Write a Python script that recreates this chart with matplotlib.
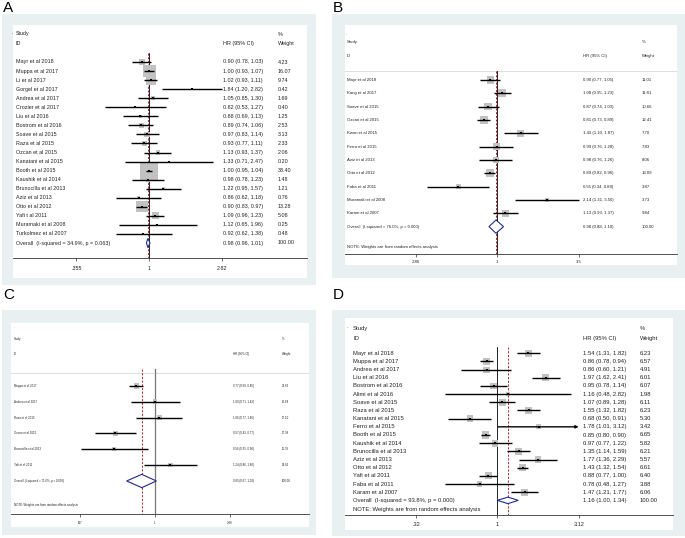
import numpy as np
import matplotlib
matplotlib.use("Agg")
import matplotlib.pyplot as plt
from matplotlib.patches import Rectangle, Polygon
from matplotlib.transforms import blended_transform_factory
from matplotlib.ticker import NullLocator

plt.rcParams['font.family'] = ['Liberation Sans', 'DejaVu Sans']

W, H = 685, 538
BG = '#e8f0f2'
BOX = '#c2c2c2'
RED = '#b0282c'
NAVY = '#1f2b8f'

# ---- panel A ----
a_study = ['Mayr et al 2018', 'Muppa et al 2017', 'Li et al 2017', 'Gorgel et al 2017',
           'Andrea et al 2017', 'Crozier et al 2017', 'Liu et al 2016', 'Bostrom et al 2016',
           'Soave et al 2015', 'Raza et al 2015', 'Ozcan et al 2015', 'Kanatani et al 2015',
           'Booth et al 2015', 'Kaushik et al 2014', 'Brunocilla et al 2013', 'Aziz et al 2013',
           'Otto et al 2012', 'Yafi t al 2011', 'Muramaki et al 2008', 'Turkolmez et al 2007']
a_hr = [0.90, 1.00, 1.02, 1.84, 1.05, 0.82, 0.88, 0.89, 0.97, 0.93, 1.13, 1.33, 1.00, 0.98,
        1.22, 0.86, 0.90, 1.09, 1.12, 0.92]
a_lo = [0.78, 0.93, 0.93, 1.20, 0.85, 0.53, 0.69, 0.74, 0.83, 0.77, 0.93, 0.71, 0.95, 0.78,
        0.95, 0.62, 0.83, 0.96, 0.65, 0.62]
a_hi = [1.03, 1.07, 1.11, 2.82, 1.30, 1.27, 1.13, 1.06, 1.14, 1.11, 1.37, 2.47, 1.04, 1.23,
        1.57, 1.18, 0.97, 1.23, 1.96, 1.38]
a_wt = [4.23, 16.07, 9.74, 0.42, 1.69, 0.40, 1.25, 2.53, 3.13, 2.33, 2.06, 0.20, 33.40, 1.48,
        1.21, 0.76, 13.28, 5.08, 0.25, 0.48]
a_overall = (0.98, 0.96, 1.01)
a_overall_label = 'Overall  (I-squared = 34.9%, p = 0.063)'
a_ticks = [0.355, 1, 2.82]
a_ticklabels = ['.355', '1', '2.82']
a_clipped = []

# ---- panel B ----
b_study = ['Mayr et al 2018', 'Kang et al 2017', 'Soave et al 2015', 'Ozcan et al 2015',
           'Kwon et al 2015', 'Ferro et al 2015', 'Aziz et al 2013', 'Otto et al 2012',
           'Faba et al 2011', 'Muramaki et al 2008', 'Karam et al 2007']
b_hr = [0.90, 1.08, 0.87, 0.81, 1.43, 0.99, 0.98, 0.89, 0.55, 2.14, 1.13]
b_lo = [0.77, 0.95, 0.74, 0.73, 1.10, 0.76, 0.76, 0.82, 0.34, 1.31, 0.93]
b_hi = [1.05, 1.23, 1.03, 0.89, 1.87, 1.28, 1.26, 0.96, 0.88, 3.50, 1.37]
b_wt = [11.01, 11.81, 10.66, 12.41, 7.70, 7.83, 8.06, 13.09, 3.87, 3.73, 9.84]
b_overall = (0.98, 0.88, 1.10)
b_overall_label = 'Overall  (I-squared = 76.0%, p = 0.000)'
b_ticks = [0.286, 1, 3.5]
b_ticklabels = ['.286', '1', '3.5']
b_clipped = []

# ---- panel C ----
c_study = ['Muppa et al 2017', 'Andrea et al 2017', 'Raza et al 2015', 'Ozcan et al 2015',
           'Brunocilla et al 2013', 'Yafi et al 2011']
c_hr = [0.77, 1.00, 1.06, 0.57, 0.56, 1.24]
c_lo = [0.69, 0.71, 0.77, 0.43, 0.35, 0.86]
c_hi = [0.85, 1.42, 1.46, 0.77, 0.90, 1.80]
c_wt = [22.63, 15.68, 17.10, 17.99, 11.78, 14.82]
c_overall = (0.83, 0.67, 1.02)
c_overall_label = 'Overall  (I-squared = 71.6%, p = 0.003)'
c_ticks = [0.347, 1, 2.88]
c_ticklabels = ['.347', '1', '2.88']
c_clipped = []

# ---- panel D ----
d_study = ['Mayr et al 2018', 'Muppa et al 2017', 'Andrea et al 2017', 'Liu et al 2016',
           'Bostrom et al 2016', 'Alimi et al 2016', 'Soave et al 2015', 'Raza et al 2015',
           'Kanatani et al 2015', 'Ferro et al 2015', 'Booth et al 2015', 'Kaushik et al 2014',
           'Brunocilla et al 2013', 'Aziz et al 2013', 'Otto et al 2012', 'Yafi et al 2011',
           'Faba et al 2011', 'Karam et al 2007']
d_hr = [1.54, 0.86, 0.86, 1.97, 0.95, 1.16, 1.07, 1.55, 0.68, 1.78, 0.85, 0.97, 1.35, 1.77,
        1.43, 0.88, 0.78, 1.47]
d_lo = [1.31, 0.78, 0.60, 1.62, 0.78, 0.48, 0.89, 1.32, 0.50, 1.01, 0.80, 0.77, 1.14, 1.36,
        1.32, 0.77, 0.48, 1.21]
d_hi = [1.82, 0.94, 1.21, 2.41, 1.14, 2.82, 1.28, 1.82, 0.91, 3.12, 0.90, 1.22, 1.59, 2.29,
        1.54, 1.00, 1.27, 1.77]
d_wt = [6.23, 6.57, 4.91, 6.01, 6.07, 1.98, 6.11, 6.23, 5.30, 3.42, 6.65, 5.82, 6.21, 5.57,
        6.61, 6.40, 3.88, 6.06]
d_overall = (1.16, 1.00, 1.34)
d_overall_label = 'Overall  (I-squared = 93.8%, p = 0.000)'
d_ticks = [0.32, 1, 3.12]
d_ticklabels = ['.32', '1', '3.12']
d_clipped = ['Ferro et al 2015']

note_text = 'NOTE: Weights are from random effects analysis'


def fig_rect(x0, y0, x1, y1):
    return [x0 / W, 1 - y1 / H, (x1 - x0) / W, (y1 - y0) / H]


def forest(fig, study, hr, lo, hi, wt, overall, ov_label, ticks, ticklabels, clipped, lay):
    bx0, by0, bx1, by1 = lay['bg']
    wx0, wy0, wx1, wy1 = lay['white']
    fig.add_artist(Rectangle((bx0 / W, 1 - by1 / H), (bx1 - bx0) / W, (by1 - by0) / H,
                             transform=fig.transFigure, facecolor=BG, edgecolor='none', zorder=-3))
    fig.add_artist(Rectangle((wx0 / W, 1 - wy1 / H), (wx1 - wx0) / W, (wy1 - wy0) / H,
                             transform=fig.transFigure, facecolor='white', edgecolor='none', zorder=-2))
    fig.text(lay['label_xy'][0] / W, 1 - lay['label_xy'][1] / H, lay['label'],
             fontsize=11, va='top', ha='left')

    ax = fig.add_axes(fig_rect(wx0, wy0, wx1, lay['axis_y']))
    ax.patch.set_visible(False)
    row0, sp = lay['row0'], lay['sp']
    def row(py):
        return (py - row0) / sp
    ax.set_ylim(row(lay['axis_y']), row(wy0))
    ax.set_xscale('log')
    ppl, x1px = lay['ppl'], lay['x_one']
    ax.set_xlim(np.exp((wx0 - x1px) / ppl), np.exp((wx1 - x1px) / ppl))

    n = len(study)
    rows = np.arange(n)
    hr, lo, hi, wt = map(np.asarray, (hr, lo, hi, wt))
    fs = lay['fs']
    lw = lay['lw']

    # reference lines
    ybot = row(lay['axis_y'])
    ytop = row(lay['line_top'])
    ax.plot([1, 1], [ytop, ybot], color=lay['null_color'], lw=lay['null_lw'], zorder=1)
    ax.plot([overall[0], overall[0]], [ytop, ybot], color=RED, lw=0.7,
            linestyle=(0, (2.2, 1.6)), zorder=1.5)
    if lay.get('sep') is not None:
        ax.axhline(row(lay['sep']), color='#d8d8d8', lw=0.6, zorder=0.5)

    # weight boxes
    side_pt = lay['k'] * np.sqrt(wt) * 0.72
    ax.scatter(hr, rows, marker='s', s=side_pt ** 2, color=BOX, edgecolors='none', zorder=2)
    # confidence intervals
    for i in range(n):
        if study[i] in clipped:
            ax.annotate('', xy=(hi[i], rows[i]), xytext=(lo[i], rows[i]),
                        arrowprops=dict(arrowstyle='-|>', lw=lw, color='black',
                                        mutation_scale=4, shrinkA=0, shrinkB=0), zorder=3)
        else:
            ax.plot([lo[i], hi[i]], [rows[i], rows[i]], color='black', lw=lw,
                    solid_capstyle='butt', snap=True, zorder=3)
    ax.scatter(hr, rows, marker='s', s=(lay['pt'] * 0.72) ** 2, color='black',
               edgecolors='none', zorder=4)

    # overall diamond
    dh = lay['dh']
    ax.add_patch(Polygon([(overall[1], n), (overall[0], n - dh), (overall[2], n),
                          (overall[0], n + dh)], closed=True, facecolor='white',
                         edgecolor=NAVY, lw=0.8, zorder=5))

    # text columns
    tr = blended_transform_factory(ax.transAxes, ax.transData)
    def fx(px):
        return (px - wx0) / (wx1 - wx0)
    tk = dict(transform=tr, fontsize=fs, va='center', ha='left', color='#222222')
    ax.text(fx(lay['dot'][0]), row(lay['dot'][1]), '.', **tk)
    ax.text(fx(lay['name_x']), row(lay['study_y']), 'Study', **tk)
    ax.text(fx(lay['name_x']), row(lay['id_y']), 'ID', **tk)
    ax.text(fx(lay['hr_x']), row(lay['id_y']), 'HR (95% CI)', **tk)
    ax.text(fx(lay['wt_x']), row(lay['study_y']), '%', **tk)
    ax.text(fx(lay['wt_x']), row(lay['id_y']), 'Weight', **tk)
    for i in range(n):
        ax.text(fx(lay['name_x']), i, study[i], **tk)
        ax.text(fx(lay['hr_x']), i, f'{hr[i]:.2f} ({lo[i]:.2f}, {hi[i]:.2f})', **tk)
        ax.text(fx(lay['wt_x']), i, f'{wt[i]:.2f}', **tk)
    ax.text(fx(lay['name_x']), n, ov_label, **tk)
    ax.text(fx(lay['hr_x']), n, f'{overall[0]:.2f} ({overall[1]:.2f}, {overall[2]:.2f})', **tk)
    ax.text(fx(lay['wt_x']), n, f'{100:.2f}', **tk)
    if lay.get('note_y') is not None:
        ax.text(fx(lay['name_x']), row(lay['note_y']), note_text, **tk)

    # axis
    for s in ('left', 'top', 'right'):
        ax.spines[s].set_visible(False)
    ax.spines['bottom'].set_color('#333333')
    ax.spines['bottom'].set_linewidth(0.6)
    ax.set_yticks([])
    ax.set_xticks(ticks)
    ax.set_xticklabels(ticklabels)
    ax.xaxis.set_minor_locator(NullLocator())
    ax.tick_params(axis='x', direction='out', length=2.5, width=0.5, color='#333333',
                   labelsize=lay['fs_tick'], pad=lay['pad'], labelcolor='#222222')
    return ax


fig = plt.figure(figsize=(W / 100, H / 100), dpi=100)

forest(fig, a_study, a_hr, a_lo, a_hi, a_wt, a_overall, a_overall_label, a_ticks, a_ticklabels,
       a_clipped,
       dict(bg=(2, 14, 316, 285), white=(13, 25, 307, 278), axis_y=258, row0=62, sp=9.05,
            x_one=149.3, ppl=70.5, name_x=16, hr_x=223, wt_x=278, study_y=34, id_y=43.5,
            dot=(11.5, 33), sep=None, note_y=None, line_top=53, fs=3.9, fs_tick=3.9, pad=3,
            k=3.1, pt=2.0, lw=1.0, dh=0.5, null_color='black', null_lw=0.6,
            label='A', label_xy=(3, 1)))

forest(fig, b_study, b_hr, b_lo, b_hi, b_wt, b_overall, b_overall_label, b_ticks, b_ticklabels,
       b_clipped,
       dict(bg=(332, 14, 685, 278), white=(345, 25, 677, 265), axis_y=253.5, row0=80, sp=13.33,
            x_one=497.3, ppl=65.2, name_x=347, hr_x=583, wt_x=642, study_y=41.7, id_y=56,
            dot=(345.5, 34), sep=71, note_y=246.7, line_top=71, fs=3.1, fs_tick=3.1, pad=2.5,
            k=2.3, pt=2.0, lw=1.0, dh=0.5, null_color='black', null_lw=0.6,
            label='B', label_xy=(333, 1)))

forest(fig, c_study, c_hr, c_lo, c_hi, c_wt, c_overall, c_overall_label, c_ticks, c_ticklabels,
       c_clipped,
       dict(bg=(2, 310, 316, 535), white=(11, 323, 309, 527), axis_y=514.3, row0=386, sp=15.83,
            x_one=155, ppl=70.9, name_x=14, hr_x=233, wt_x=281.7, study_y=339, id_y=354.3,
            dot=(13.5, 327), sep=373, note_y=505, line_top=369, fs=2.1, fs_tick=2.1, pad=2,
            k=1.2, pt=2.0, lw=1.0, dh=0.42, null_color='#777777', null_lw=0.9,
            label='C', label_xy=(3, 288)))

forest(fig, d_study, d_hr, d_lo, d_hi, d_wt, d_overall, d_overall_label, d_ticks, d_ticklabels,
       d_clipped,
       dict(bg=(332, 310, 685, 536), white=(345, 318, 673, 530), axis_y=515, row0=353.3, sp=8.17,
            x_one=497.3, ppl=71.5, name_x=353, hr_x=583, wt_x=640, study_y=328.3, id_y=338.3,
            dot=(346.5, 327), sep=None, note_y=510, line_top=346.5, fs=4.2, fs_tick=4.0, pad=2.5,
            k=2.8, pt=2.0, lw=1.0, dh=0.4, null_color='black', null_lw=0.6,
            label='D', label_xy=(333, 288)))

fig.savefig('out.png', dpi=100)
